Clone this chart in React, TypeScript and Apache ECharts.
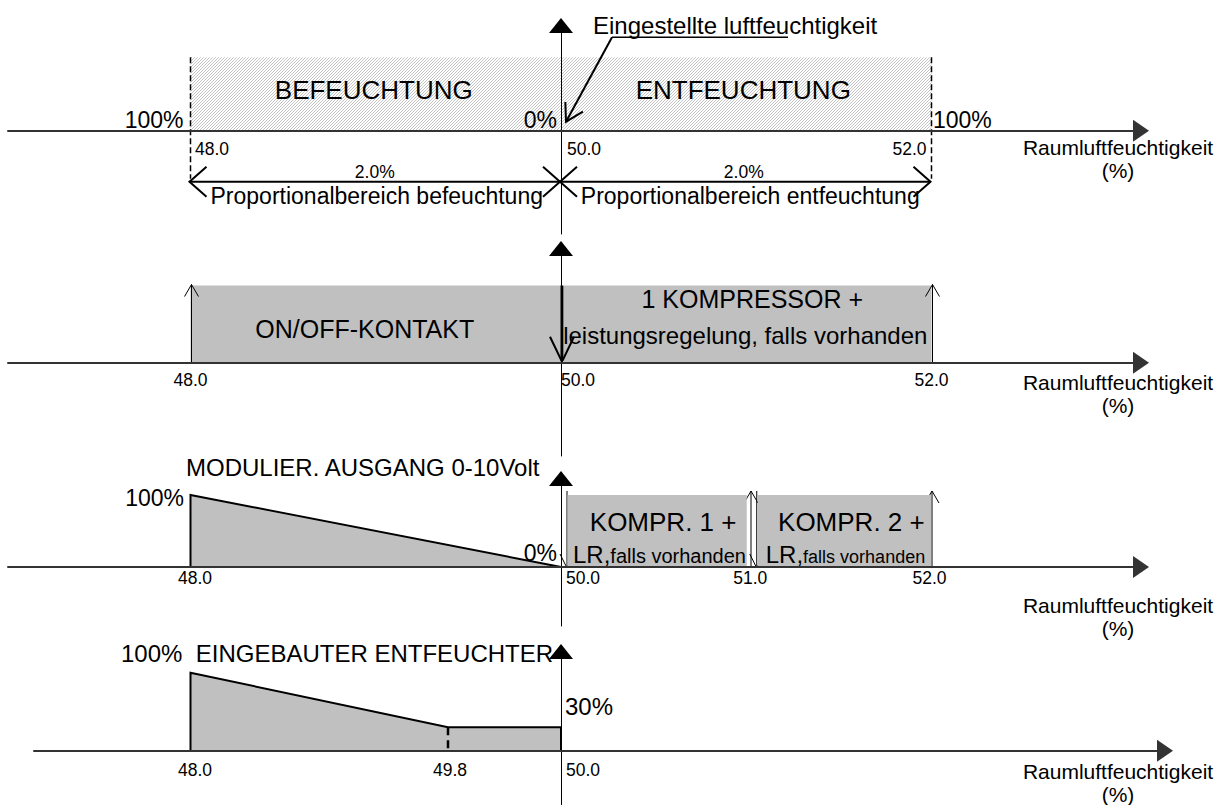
import React, { useEffect, useRef } from "react";
import * as echarts from "echarts";

const FONT = '"Liberation Sans", Arial, Helvetica, sans-serif';

// ---------------- data ----------------
// Panel 1 – control bands
const setpointValue = 50.0;
const setpointLabel = "Eingestellte luftfeuchtigkeit";
const zoneStart1 = [48.0, 50.0];
const zoneEnd1 = [50.0, 52.0];
const zoneLevel1 = [100, 100];
const zoneNames1 = ["BEFEUCHTUNG", "ENTFEUCHTUNG"];
const bandLabels1 = ["2.0%", "2.0%"];
const bandNames1 = ["Proportionalbereich befeuchtung", "Proportionalbereich entfeuchtung"];
const guideX1 = [48.0, 52.0];
const pctX1 = [48.0, 50.0, 52.0];
const pctLabels1 = ["100%", "0%", "100%"];
const ticks1 = [48.0, 50.0, 52.0];
const tickLabels1 = ["48.0", "50.0", "52.0"];

// Panel 2 – on/off stages
const stageStart2 = [48.0, 50.0];
const stageEnd2 = [50.0, 52.0];
const stageLevel2 = [100, 100];
const stageNames2 = ["ON/OFF-KONTAKT", "1 KOMPRESSOR +"];
const stageNotes2 = ["", "leistungsregelung, falls vorhanden"];
const switchX2 = [48.0, 50.0, 52.0];
const switchDir2 = [1, -1, 1];
const ticks2 = [48.0, 50.0, 52.0];
const tickLabels2 = ["48.0", "50.0", "52.0"];

// Panel 3 – modulating output + compressors
const title3 = "MODULIER. AUSGANG 0-10Volt";
const modX3 = [48.0, 48.0, 50.0];
const modY3 = [0, 100, 0];
const modPctX3 = [48.0, 50.0];
const modPctY3 = [100, 0];
const modPctLabels3 = ["100%", "0%"];
const compStart3 = [50.0, 51.0];
const compEnd3 = [51.0, 52.0];
const compLevel3 = [100, 100];
const compNames3 = ["KOMPR. 1 +", "KOMPR. 2 +"];
const compPrefix3 = ["LR,", "LR,"];
const compNotes3 = ["falls vorhanden", "falls vorhanden"];
const switchX3 = [50.0, 51.0, 51.0, 52.0];
const switchDir3 = [-1, 1, -1, 1];
const ticks3 = [48.0, 50.0, 51.0, 52.0];
const tickLabels3 = ["48.0", "50.0", "51.0", "52.0"];

// Panel 4 – built-in dehumidifier
const title4 = "100%  EINGEBAUTER ENTFEUCHTER";
const dehumX4 = [48.0, 48.0, 49.39, 50.0, 50.0];
const dehumY4 = [0, 100, 30, 30, 0];
const breakX4 = [49.39];
const breakY4 = [30];
const levelX4 = [50.0];
const levelY4 = [30];
const levelLabels4 = ["30%"];
const ticks4 = [48.0, 49.39, 50.0];
const tickLabels4 = ["48.0", "49.8", "50.0"];

const axisName = "Raumluftfeuchtigkeit";
const axisUnit = "(%)";

// ---------------- layout / style ----------------
const X48_PX = 190.5;
const PX_PER_UNIT = 185.25;
const VAXIS_PX = 561;
const toVal = (px: number) => 48 + (px - X48_PX) / PX_PER_UNIT;

const panels = [
  { left: 8, right: 1141, top: 25.5, bottom: 234, axisY: 130.7, fullY: 57.3, nameY: 147 },
  { left: 8, right: 1141, top: 248.5, bottom: 456, axisY: 362.7, fullY: 285.5, nameY: 382 },
  { left: 8, right: 1141, top: 478.5, bottom: 626, axisY: 567, fullY: 495, nameY: 605 },
  { left: 34, right: 1165, top: 651.5, bottom: 805, axisY: 750.7, fullY: 672.7, nameY: 771 },
];

const TICK_SIZE = 17.5;
const tickStyle1 = [
  { dx: 4.5, dy: 18.3, align: "left" },
  { dx: 6, dy: 18.3, align: "left" },
  { dx: -5, dy: 18.3, align: "right" },
];
const tickStyle2 = [
  { dx: 0, dy: 17.3, align: "center" },
  { dx: 0, dy: 17.3, align: "left" },
  { dx: 0, dy: 17.3, align: "center" },
];
const tickStyle3 = [
  { dx: 4.5, dy: 11, align: "center" },
  { dx: 5, dy: 11, align: "left" },
  { dx: 4, dy: 11, align: "center" },
  { dx: -2, dy: 11, align: "center" },
];
const tickStyle4 = [
  { dx: 4.5, dy: 19.3, align: "center" },
  { dx: 2, dy: 19.3, align: "center" },
  { dx: 5, dy: 19.3, align: "left" },
];

function txt(x: number, y: number, text: string, size: number, align = "center", vAlign = "middle") {
  return {
    type: "text",
    x,
    y,
    style: {
      text,
      font: `${size}px ${FONT}`,
      fill: "#000",
      align,
      textAlign: align,
      verticalAlign: vAlign,
      textVerticalAlign: vAlign,
    },
  };
}

function head(tx: number, ty: number, dx: number, dy: number, L: number, W: number, lw: number) {
  const nx = -dy;
  const ny = dx;
  return {
    type: "polyline",
    shape: {
      points: [
        [tx - L * dx + W * nx, ty - L * dy + W * ny],
        [tx, ty],
        [tx - L * dx - W * nx, ty - L * dy - W * ny],
      ],
    },
    style: { stroke: "#000", lineWidth: lw, fill: "none", lineJoin: "miter" },
  };
}

function line(x1: number, y1: number, x2: number, y2: number, lw: number, dash?: number[]) {
  return {
    type: "line",
    shape: { x1, y1, x2, y2 },
    style: { stroke: "#000", lineWidth: lw, lineDash: dash, lineCap: "butt" },
  };
}

function tickSeries(idx: number, ticks: number[], labels: string[], style: any[]) {
  return {
    type: "custom",
    xAxisIndex: idx,
    yAxisIndex: idx,
    z: 6,
    silent: true,
    data: ticks.map((v) => [v, 0]),
    renderItem: (params: any, api: any) => {
      const i = params.dataIndex;
      const c = api.coord([api.value(0), 0]);
      const s = style[i];
      return txt(c[0] + s.dx, c[1] + s.dy, labels[i], TICK_SIZE, s.align);
    },
  };
}

function buildOption() {
  const cv = document.createElement("canvas");
  cv.width = 3;
  cv.height = 3;
  const g = cv.getContext("2d")!;
  g.strokeStyle = "#bdbdbd";
  g.lineWidth = 0.9;
  g.beginPath();
  g.moveTo(0, 3);
  g.lineTo(3, 0);
  g.moveTo(-1, 1);
  g.lineTo(1, -1);
  g.moveTo(2, 4);
  g.lineTo(4, 2);
  g.stroke();
  const hatch = { image: cv.toDataURL(), repeat: "repeat", imageWidth: 3, imageHeight: 3 };

  const grid: any[] = [];
  const xAxis: any[] = [];
  const yAxis: any[] = [];
  panels.forEach((p, i) => {
    const k = (p.axisY - p.fullY) / 100;
    grid.push({ left: p.left, top: p.top, width: p.right - p.left, height: p.bottom - p.top });
    xAxis.push({
      type: "value",
      gridIndex: i,
      min: toVal(p.left),
      max: toVal(p.right),
      z: 10,
      axisLine: {
        show: true,
        onZero: true,
        symbol: ["none", "triangle"],
        symbolSize: [22, 16],
        lineStyle: { color: "#333", width: 2 },
      },
      axisTick: { show: false },
      axisLabel: { show: false },
      splitLine: { show: false },
    });
    yAxis.push({
      type: "value",
      gridIndex: i,
      min: -(p.bottom - p.axisY) / k,
      max: (p.axisY - p.top) / k,
      offset: p.left - VAXIS_PX,
      z: 10,
      axisLine: {
        show: true,
        onZero: false,
        symbol: ["none", "triangle"],
        symbolSize: [24, 15],
        lineStyle: { color: "#000", width: 1 },
      },
      axisTick: { show: false },
      axisLabel: { show: false },
      splitLine: { show: false },
    });
  });

  const series: any[] = [
    // ---- Panel 1 ----
    {
      type: "custom",
      xAxisIndex: 0,
      yAxisIndex: 0,
      z: 1,
      silent: true,
      data: zoneStart1.map((s, i) => [s, zoneEnd1[i], zoneLevel1[i]]),
      encode: { x: [0, 1], y: 2 },
      renderItem: (params: any, api: any) => {
        const i = params.dataIndex;
        const p0 = api.coord([api.value(0), api.value(2)]);
        const p1 = api.coord([api.value(1), 0]);
        const dxs = [-2, -3];
        return {
          type: "group",
          children: [
            { type: "rect", shape: { x: p0[0], y: p0[1], width: p1[0] - p0[0], height: p1[1] - p0[1] }, style: { fill: hatch } },
            txt((p0[0] + p1[0]) / 2 + dxs[i], p0[1] + 33, zoneNames1[i], 26),
          ],
        };
      },
    },
    {
      type: "custom",
      xAxisIndex: 0,
      yAxisIndex: 0,
      z: 3,
      silent: true,
      data: guideX1.map((x) => [x, 100]),
      renderItem: (params: any, api: any) => {
        const t = api.coord([api.value(0), api.value(1)]);
        const b = api.coord([api.value(0), 0]);
        return line(t[0], t[1], t[0], b[1] + 48, 1.5, [6, 3]);
      },
    },
    {
      type: "custom",
      xAxisIndex: 0,
      yAxisIndex: 0,
      z: 3,
      silent: true,
      data: zoneStart1.map((s, i) => [s, zoneEnd1[i]]),
      renderItem: (params: any, api: any) => {
        const i = params.dataIndex;
        const a = api.coord([api.value(0), 0]);
        const b = api.coord([api.value(1), 0]);
        const y = a[1] + 51;
        const x0 = a[0] - 1;
        const x1 = b[0] - 1;
        const labelDx = [0, -1.5];
        const nameDx = [2, 5];
        return {
          type: "group",
          children: [
            line(x0, y, x1, y, 2),
            head(x0, y, -1, 0, 17, 15, 2),
            head(x1, y, 1, 0, 17, 15, 2),
            txt((x0 + x1) / 2 + labelDx[i], y - 9.5, bandLabels1[i], 17.5),
            txt((x0 + x1) / 2 + nameDx[i], y + 14.5, bandNames1[i], 23),
          ],
        };
      },
    },
    {
      type: "custom",
      xAxisIndex: 0,
      yAxisIndex: 0,
      z: 4,
      silent: true,
      data: pctX1.map((x) => [x, 0]),
      renderItem: (params: any, api: any) => {
        const i = params.dataIndex;
        const c = api.coord([api.value(0), 0]);
        const dx = [-7, -4, 1.5];
        const al = ["right", "right", "left"];
        return txt(c[0] + dx[i], c[1] - 10.5, pctLabels1[i], 23, al[i]);
      },
    },
    {
      type: "custom",
      xAxisIndex: 0,
      yAxisIndex: 0,
      z: 4,
      silent: true,
      data: [[setpointValue, 0]],
      renderItem: (params: any, api: any) => {
        const c = api.coord([api.value(0), 0]);
        const tip = [c[0] + 5, c[1] - 9];
        const st = [tip[0] + 46, tip[1] - 84.5];
        const len = Math.hypot(tip[0] - st[0], tip[1] - st[1]);
        const d = [(tip[0] - st[0]) / len, (tip[1] - st[1]) / len];
        return {
          type: "group",
          children: [
            line(st[0], st[1], tip[0], tip[1], 2),
            head(tip[0], tip[1], d[0], d[1], 17, 10, 2),
            line(st[0], st[1], st[0] + 176, st[1], 1.5),
            txt(st[0] - 19, st[1] - 12, setpointLabel, 24, "left"),
          ],
        };
      },
    },
    tickSeries(0, ticks1, tickLabels1, tickStyle1),

    // ---- Panel 2 ----
    {
      type: "custom",
      xAxisIndex: 1,
      yAxisIndex: 1,
      z: 1,
      silent: true,
      data: stageStart2.map((s, i) => [s, stageEnd2[i], stageLevel2[i]]),
      encode: { x: [0, 1], y: 2 },
      renderItem: (params: any, api: any) => {
        const i = params.dataIndex;
        const p0 = api.coord([api.value(0), api.value(2)]);
        const p1 = api.coord([api.value(1), 0]);
        const padL = [0, 3];
        const nameDx = [-11, 6];
        const nameDy = [43.5, 13.5];
        const x0 = p0[0] + padL[i];
        const x1 = p1[0];
        const kids: any[] = [
          { type: "rect", shape: { x: x0, y: p0[1], width: x1 - x0, height: p1[1] - p0[1] }, style: { fill: "#c0c0c0" } },
          txt((p0[0] + p1[0]) / 2 + nameDx[i], p0[1] + nameDy[i], stageNames2[i], 25),
        ];
        if (stageNotes2[i]) kids.push(txt((p0[0] + p1[0]) / 2 - 1, p0[1] + 49.5, stageNotes2[i], 24));
        return { type: "group", children: kids };
      },
    },
    {
      type: "custom",
      xAxisIndex: 1,
      yAxisIndex: 1,
      z: 4,
      silent: true,
      data: switchX2.map((x, i) => [x, switchDir2[i]]),
      renderItem: (params: any, api: any) => {
        const dir = api.value(1);
        const b = api.coord([api.value(0), 0]);
        const t = api.coord([api.value(0), 100]);
        if (dir > 0) {
          const x = b[0] + 1;
          return { type: "group", children: [line(x, b[1], x, t[1] - 1, 1), head(x, t[1] - 1, 0, -1, 12, 7, 1)] };
        }
        const x = b[0] + 1;
        return { type: "group", children: [line(x, t[1], x, b[1] - 2, 3), head(x, b[1] - 1, 0, 1, 25, 12, 2)] };
      },
    },
    tickSeries(1, ticks2, tickLabels2, tickStyle2),

    // ---- Panel 3 ----
    {
      type: "line",
      xAxisIndex: 2,
      yAxisIndex: 2,
      z: 2,
      silent: true,
      symbol: "none",
      showSymbol: false,
      data: modX3.map((x, i) => [x, modY3[i]]),
      lineStyle: { color: "#000", width: 2, join: "miter" },
      areaStyle: { color: "#c0c0c0", opacity: 1 },
    },
    {
      type: "custom",
      xAxisIndex: 2,
      yAxisIndex: 2,
      z: 1,
      silent: true,
      data: switchX3.map((x, i) => [x, switchDir3[i]]),
      renderItem: (params: any, api: any) => {
        const i = params.dataIndex;
        const dxs = [6, 4.75, 10.5, 0.5];
        const dir = api.value(1);
        const b = api.coord([api.value(0), 0]);
        const t = api.coord([api.value(0), 100]);
        const x = b[0] + dxs[i];
        const top = t[1] - 4;
        if (dir > 0) return { type: "group", children: [line(x, b[1], x, top, 1), head(x, top, 0, -1, 12, 7, 1)] };
        return { type: "group", children: [line(x, top, x, b[1] + 1, 1), head(x, b[1] + 1, 0, 1, 14, 7, 1)] };
      },
    },
    {
      type: "custom",
      xAxisIndex: 2,
      yAxisIndex: 2,
      z: 2,
      silent: true,
      data: compStart3.map((s, i) => [s, compEnd3[i], compLevel3[i]]),
      encode: { x: [0, 1], y: 2 },
      renderItem: (params: any, api: any) => {
        const i = params.dataIndex;
        const p0 = api.coord([api.value(0), api.value(2)]);
        const p1 = api.coord([api.value(1), 0]);
        const padL = [6.5, 11.5];
        const padR = [0.5, -0.5];
        const nameDx = [6, 7];
        const noteDx = [5.5, 8];
        const noteSize = [20, 18];
        const x0 = p0[0] + padL[i];
        const x1 = p1[0] + padR[i];
        return {
          type: "group",
          children: [
            { type: "rect", shape: { x: x0, y: p0[1], width: x1 - x0, height: p1[1] - p0[1] }, style: { fill: "#c0c0c0" } },
            txt((x0 + x1) / 2 + nameDx[i], p0[1] + 27, compNames3[i], 26),
            {
              type: "text",
              x: x0 + noteDx[i],
              y: p1[1] - 1,
              style: {
                text: `{a|${compPrefix3[i]}}{b|${compNotes3[i]}}`,
                align: "left",
                textAlign: "left",
                verticalAlign: "bottom",
                textVerticalAlign: "bottom",
                fill: "#000",
                rich: {
                  a: { font: `24px ${FONT}`, fill: "#000", verticalAlign: "bottom" },
                  b: { font: `${noteSize[i]}px ${FONT}`, fill: "#000", verticalAlign: "bottom" },
                },
              },
            },
          ],
        };
      },
    },
    {
      type: "custom",
      xAxisIndex: 2,
      yAxisIndex: 2,
      z: 4,
      silent: true,
      data: modPctX3.map((x, i) => [x, modPctY3[i]]),
      renderItem: (params: any, api: any) => {
        const i = params.dataIndex;
        const c = api.coord([api.value(0), api.value(1)]);
        const dx = [-6.5, -4];
        const dy = [3, -14];
        return txt(c[0] + dx[i], c[1] + dy[i], modPctLabels3[i], 23, "right");
      },
    },
    tickSeries(2, ticks3, tickLabels3, tickStyle3),

    // ---- Panel 4 ----
    {
      type: "line",
      xAxisIndex: 3,
      yAxisIndex: 3,
      z: 2,
      silent: true,
      symbol: "none",
      showSymbol: false,
      data: dehumX4.map((x, i) => [x, dehumY4[i]]),
      lineStyle: { color: "#000", width: 2, join: "miter" },
      areaStyle: { color: "#c0c0c0", opacity: 1 },
    },
    {
      type: "custom",
      xAxisIndex: 3,
      yAxisIndex: 3,
      z: 4,
      silent: true,
      data: breakX4.map((x, i) => [x, breakY4[i]]),
      renderItem: (params: any, api: any) => {
        const t = api.coord([api.value(0), api.value(1)]);
        const b = api.coord([api.value(0), 0]);
        return line(t[0], t[1], t[0], b[1], 2.5, [8, 5]);
      },
    },
    {
      type: "custom",
      xAxisIndex: 3,
      yAxisIndex: 3,
      z: 4,
      silent: true,
      data: levelX4.map((x, i) => [x, levelY4[i]]),
      renderItem: (params: any, api: any) => {
        const i = params.dataIndex;
        const c = api.coord([api.value(0), api.value(1)]);
        return txt(c[0] + 4, c[1] - 21, levelLabels4[i], 24, "left");
      },
    },
    tickSeries(3, ticks4, tickLabels4, tickStyle4),
  ];

  const graphic: any[] = [
    txt(186, 467, title3, 24, "left"),
    txt(121, 653, title4, 24, "left"),
  ];
  panels.forEach((p) => {
    graphic.push(txt(1118, p.nameY, axisName, 21));
    graphic.push(txt(1118, p.nameY + 23, axisUnit, 21));
  });

  return {
    animation: false,
    backgroundColor: "#ffffff",
    grid,
    xAxis,
    yAxis,
    series,
    graphic: { elements: graphic },
  };
}

export default function App() {
  const ref = useRef<HTMLDivElement>(null);
  useEffect(() => {
    if (!ref.current) return;
    const chart = echarts.init(ref.current, undefined, { renderer: "svg" });
    chart.setOption(buildOption() as any);
    return () => chart.dispose();
  }, []);
  return (
    <div
      ref={ref}
      style={{ position: "absolute", left: 0, top: 0, width: 1227, height: 805, background: "#fff" }}
    />
  );
}
